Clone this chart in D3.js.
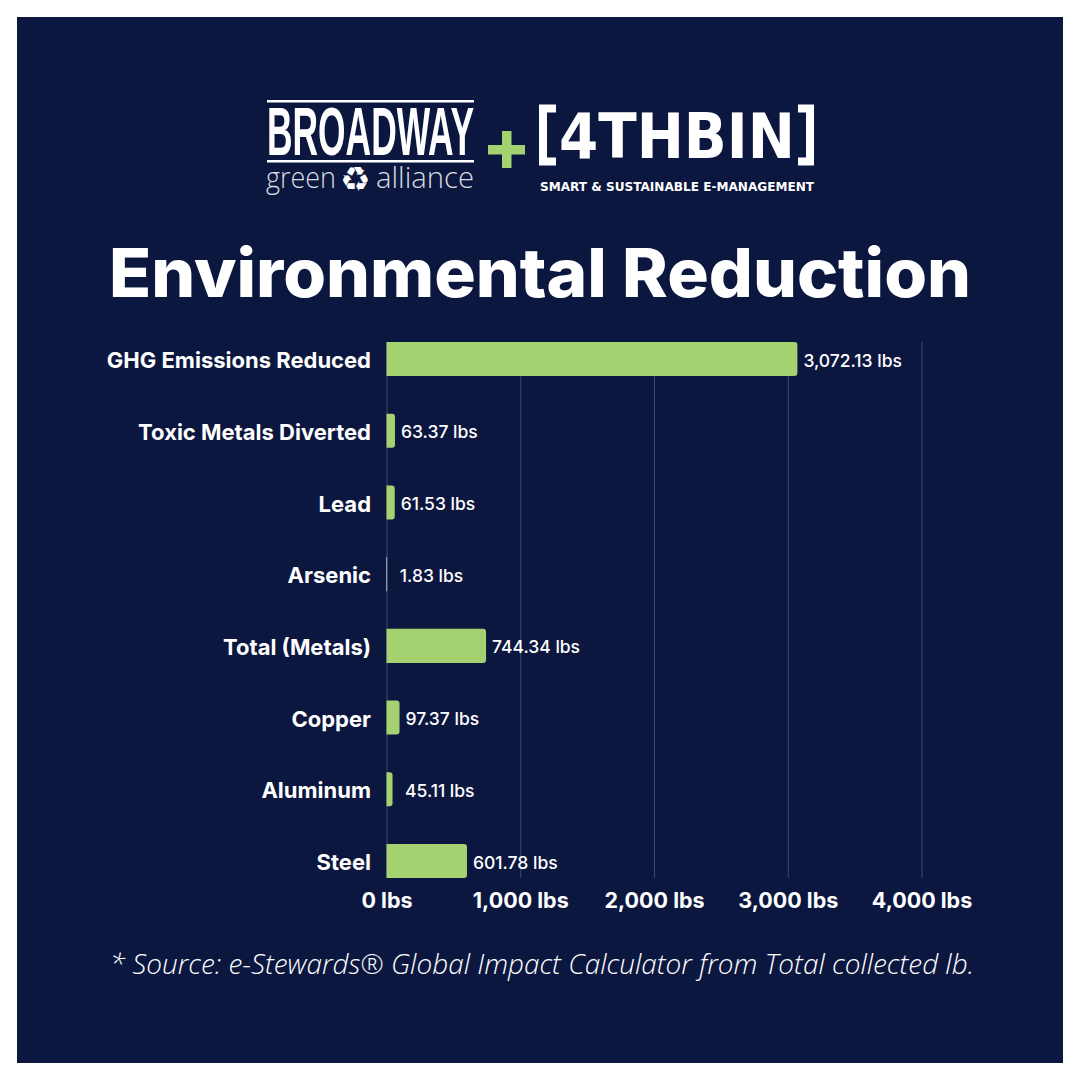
<!DOCTYPE html>
<html lang="en">
<head>
  <meta charset="UTF-8">
  <title>Environmental Reduction</title>
  <style>
    html, body { margin: 0; padding: 0; background: #fff; }
    svg { display: block; }
    text { fill: #fff; font-family: Inter, "Noto Sans", sans-serif; }
    .cat { font-size: 22px; font-weight: 700; }
    .val { font-size: 17.5px; font-weight: 500; }
    .tick text { font-size: 21.5px; font-weight: 700; }
    .tick line { stroke: #3c4a68; stroke-width: 1; }
  </style>
</head>
<body>
  <svg width="1080" height="1080"></svg>

  <script src="https://d3js.org/d3.v7.min.js"></script>
  <script>
    const categories = ["GHG Emissions Reduced", "Toxic Metals Diverted", "Lead", "Arsenic",
      "Total (Metals)", "Copper", "Aluminum", "Steel"];
    const values = [3072.13, 63.37, 61.53, 1.83, 744.34, 97.37, 45.11, 601.78];
    const valueLabels = ["3,072.13 lbs", "63.37 lbs", "61.53 lbs", "1.83 lbs",
      "744.34 lbs", "97.37 lbs", "45.11 lbs", "601.78 lbs"];
    const xTicks = [0, 1000, 2000, 3000, 4000];

    const navy = "#0c1740";
    const green = "#a5d271";

    const svg = d3.select("svg");

    svg.append("rect").attr("width", 1080).attr("height", 1080).attr("fill", "#fff");
    svg.append("rect").attr("x", 17).attr("y", 17).attr("width", 1046).attr("height", 1046).attr("fill", navy);

    // Logos
    const logo = svg.append("g");
    logo.append("rect").attr("x", 267).attr("y", 100).attr("width", 207).attr("height", 2.5).attr("fill", "#fff");
    logo.append("rect").attr("x", 267).attr("y", 160).attr("width", 207).attr("height", 2.5).attr("fill", "#fff");
    logo.append("text").attr("x", 267).attr("y", 155)
      .style("font-family", "'Liberation Sans'")
      .style("font-size", "68px").style("font-weight", 700)
      .attr("textLength", 207).attr("lengthAdjust", "spacingAndGlyphs")
      .text("BROADWAY");
    logo.append("text").attr("x", 266).attr("y", 188)
      .style("font-family", "'Open Sans'").style("font-size", "30px").style("font-weight", 300)
      .attr("textLength", 70).attr("lengthAdjust", "spacingAndGlyphs")
      .attr("fill-opacity", 0.85).text("green");
    logo.append("text").attr("x", 340).attr("y", 191)
      .style("font-family", "'DejaVu Sans'").style("font-size", "34px").text("♻");
    logo.append("text").attr("x", 376).attr("y", 188)
      .style("font-family", "'Open Sans'").style("font-size", "30px").style("font-weight", 300)
      .attr("textLength", 98).attr("lengthAdjust", "spacingAndGlyphs")
      .attr("fill-opacity", 0.85).text("alliance");

    logo.append("rect").attr("x", 488).attr("y", 145).attr("width", 37).attr("height", 9.5).attr("fill", green);
    logo.append("rect").attr("x", 502).attr("y", 131).attr("width", 9.5).attr("height", 37).attr("fill", green);

    // brackets as paths, the wordmark between them as text
    logo.append("path").attr("fill", "none").attr("stroke", "#fff").attr("stroke-width", 8)
      .attr("d", "M556,108.5H543V161.5H556M798,108.5H810V161.5H798");
    logo.append("text").attr("x", 559).attr("y", 158)
      .style("font-family", "'DejaVu Sans'").style("font-size", "62px").style("font-weight", 700)
      .attr("textLength", 236).attr("lengthAdjust", "spacingAndGlyphs")
      .text("4THBIN");
    logo.append("text").attr("x", 540).attr("y", 191)
      .style("font-family", "'DejaVu Sans'").style("font-size", "11.5px").style("font-weight", 700)
      .attr("textLength", 274).attr("lengthAdjust", "spacingAndGlyphs")
      .text("SMART & SUSTAINABLE E-MANAGEMENT");

    // Title
    svg.append("text").attr("x", 540).attr("y", 297).attr("text-anchor", "middle")
      .style("font-size", "67px").style("font-weight", 800)
      .attr("textLength", 862).attr("lengthAdjust", "spacingAndGlyphs")
      .text("Environmental Reduction");

    // Chart
    const x = d3.scaleLinear().domain([0, 4000]).range([386.5, 921.5]);
    const y = d3.scaleBand().domain(categories).range([342, 878]).paddingInner(0.525);

    const axis = d3.axisBottom(x)
      .tickValues(xTicks)
      .tickSize(878 - 342)
      .tickPadding(15)
      .tickFormat(d => d3.format(",")(d) + " lbs");

    svg.append("g").attr("transform", "translate(0,342)").call(axis)
      .call(g => g.select(".domain").remove());

    svg.selectAll(".bar").data(values).join("path")
      .attr("class", "bar")
      .attr("fill", green)
      .attr("d", (d, i) => {
        const x0 = x(0), x1 = x(d), t = y(categories[i]), h = y.bandwidth();
        const r = Math.min(3, x1 - x0);
        return `M${x0},${t}H${x1 - r}Q${x1},${t} ${x1},${t + r}V${t + h - r}Q${x1},${t + h} ${x1 - r},${t + h}H${x0}Z`;
      });

    // Arsenic is too thin to see in green, it shows as a pale sliver
    svg.selectAll(".bar").filter(d => d < 5)
      .attr("fill", "#8f9aae").attr("stroke", "#8f9aae").attr("stroke-width", 1);

    svg.selectAll(".cat").data(categories).join("text")
      .attr("class", "cat")
      .attr("x", 371)
      .attr("y", d => y(d) + y.bandwidth() / 2 + 1.5)
      .attr("dy", "0.35em")
      .attr("text-anchor", "end")
      .text(d => d);

    // the original pushes the two smallest labels further out
    const labelOffset = { "Arsenic": 13, "Aluminum": 12.5 };
    svg.selectAll(".val").data(values).join("text")
      .attr("class", "val")
      .attr("x", (d, i) => x(d) + (labelOffset[categories[i]] || 6))
      .attr("y", (d, i) => y(categories[i]) + y.bandwidth() / 2 + 1.5)
      .attr("dy", "0.35em")
      .text((d, i) => valueLabels[i]);

    // Footnote
    svg.append("text").attr("x", 542).attr("y", 974).attr("text-anchor", "middle")
      .style("font-family", "'Open Sans'").style("font-style", "italic").style("font-weight", 300)
      .style("font-size", "28px")
      .attr("textLength", 864).attr("lengthAdjust", "spacingAndGlyphs")
      .text("* Source: e-Stewards® Global Impact Calculator from Total collected lb.");
  </script>
</body>
</html>
